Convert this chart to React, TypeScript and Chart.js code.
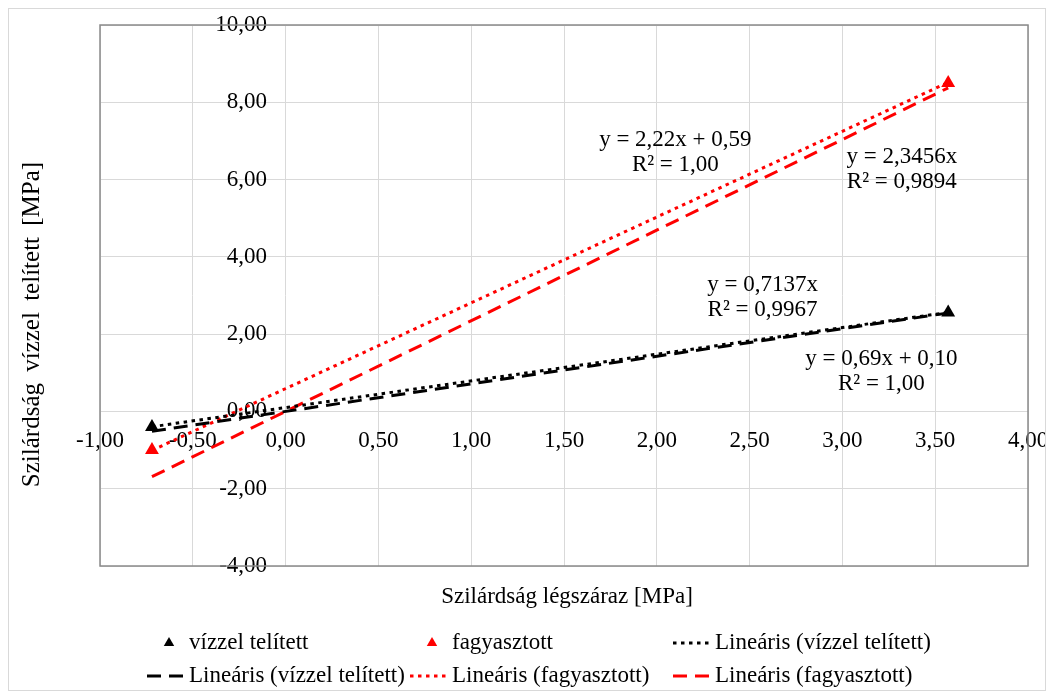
import React, { useEffect, useRef } from "react";
import { Chart, registerables } from "chart.js";

Chart.register(...registerables);

const FONT = "'Liberation Serif', 'Times New Roman', serif";
const FS = 23;

// ---- data ----
const seriesNames = ["vízzel telített", "fagyasztott"];
const trendNames = [
  "Lineáris (vízzel telített)",
  "Lineáris (vízzel telített)",
  "Lineáris (fagyasztott)",
  "Lineáris (fagyasztott)",
];
const xValues = [-0.72, 3.57];
const waterValues = [-0.4, 2.56];
const frozenValues = [-1.0, 8.5];
const xTicks = [-1, -0.5, 0, 0.5, 1, 1.5, 2, 2.5, 3, 3.5, 4];
const yTicks = [-4, -2, 0, 2, 4, 6, 8, 10];
// trendline equations as printed on the chart
const trendSlopes = [0.69, 0.7137, 2.22, 2.3456];
const trendIntercepts = [0.1, 0, 0.59, 0];
const trendLabelLines = [
  ["y = 0,69x + 0,10", "R² = 1,00"],
  ["y = 0,7137x", "R² = 0,9967"],
  ["y = 2,22x + 0,59", "R² = 1,00"],
  ["y = 2,3456x", "R² = 0,9894"],
];
const xTitle = "Szilárdság légszáraz [MPa]";
const yTitle = "Szilárdság vízzel telített [MPa]";

// ---- layout / style (not data) ----
const labelAnchorX = [3.21, 2.57, 2.1, 3.32];
const labelAnchorY = [1.37, 3.26, 7.02, 6.58];
const trendColors = ["#000000", "#000000", "#ff0000", "#ff0000"];
const DOT = [3.5, 4.5];
const DASH = [14, 8];
const trendDashes = [DOT, DASH, DOT, DASH];
// y tick labels sit a little to the left of the x = 0 crossing
const Y_LABEL_CROSS = -0.1;

const fmt = (v: number) => v.toFixed(2).replace(".", ",");

const framePlugin = {
  id: "frame",
  beforeDatasetsDraw(chart: any) {
    const { ctx, chartArea: a } = chart;
    ctx.save();
    ctx.strokeStyle = "#8a8a8a";
    ctx.lineWidth = 1.5;
    ctx.strokeRect(a.left, a.top, a.right - a.left, a.bottom - a.top);
    ctx.restore();
  },
};

function drawSpacedWords(ctx: any, text: string, cx: number, cy: number, extra: number) {
  const words = text.split(" ");
  const sp = ctx.measureText(" ").width + extra;
  const widths = words.map((w) => ctx.measureText(w).width);
  const total = widths.reduce((s, w) => s + w, 0) + sp * (words.length - 1);
  let x = cx - total / 2;
  ctx.textAlign = "left";
  words.forEach((w, i) => {
    ctx.fillText(w, x, cy);
    x += widths[i] + sp;
  });
}

const textPlugin = {
  id: "texts",
  afterDraw(chart: any) {
    const { ctx, chartArea: a, scales } = chart;
    ctx.save();
    ctx.fillStyle = "#000";
    ctx.font = `${FS}px ${FONT}`;
    ctx.textAlign = "center";
    ctx.textBaseline = "middle";
    // trendline equations
    trendLabelLines.forEach((lines, i) => {
      const cx = scales.x.getPixelForValue(labelAnchorX[i]);
      const cy = scales.y.getPixelForValue(labelAnchorY[i]);
      lines.forEach((t, j) => ctx.fillText(t, cx, cy + j * 25));
    });
    // axis titles
    ctx.fillText(xTitle, (a.left + a.right) / 2 + 3, a.bottom + 31);
    ctx.save();
    ctx.font = `25px ${FONT}`;
    ctx.translate(23, (a.top + a.bottom) / 2 + 29);
    ctx.rotate(-Math.PI / 2);
    drawSpacedWords(ctx, yTitle, 0, 0, 5);
    ctx.restore();

    // legend: 3 columns x 2 rows
    const colX = [180, 443, 706];
    const rowY = [634, 667];
    const ds = chart.data.datasets;
    ds.forEach((d: any, i: number) => {
      const col = i % 3;
      const row = Math.floor(i / 3);
      const tx = colX[col];
      const ty = rowY[row];
      const mx0 = tx - 42;
      const mx1 = tx - 4;
      if (d.showLine === false) {
        const cx = (mx0 + mx1) / 2 + 3;
        const r = 6;
        ctx.beginPath();
        ctx.moveTo(cx, ty - r);
        ctx.lineTo(cx + r * 0.87, ty + r * 0.5);
        ctx.lineTo(cx - r * 0.87, ty + r * 0.5);
        ctx.closePath();
        ctx.fillStyle = d.backgroundColor;
        ctx.fill();
      } else {
        ctx.save();
        ctx.strokeStyle = d.borderColor;
        ctx.lineWidth = d.borderWidth;
        ctx.setLineDash(d.borderDash);
        ctx.beginPath();
        ctx.moveTo(mx0, ty);
        ctx.lineTo(mx1, ty);
        ctx.stroke();
        ctx.restore();
      }
      ctx.fillStyle = "#000";
      ctx.textAlign = "left";
      ctx.fillText(d.label, tx, ty);
    });
    ctx.restore();
  },
};

export default function App() {
  const ref = useRef<HTMLCanvasElement | null>(null);

  useEffect(() => {
    if (!ref.current) return;
    const markerSets = [waterValues, frozenValues].map((vals, i) => ({
      label: seriesNames[i],
      data: xValues.map((x, k) => ({ x, y: vals[k] })),
      showLine: false,
      pointStyle: "triangle",
      pointRadius: 8,
      pointHoverRadius: 8,
      backgroundColor: i === 0 ? "#000000" : "#ff0000",
      borderColor: i === 0 ? "#000000" : "#ff0000",
      borderWidth: 0,
    }));
    const trendSets = trendSlopes.map((m, i) => ({
      label: trendNames[i],
      data: xValues.map((x) => ({ x, y: m * x + trendIntercepts[i] })),
      showLine: true,
      pointRadius: 0,
      borderColor: trendColors[i],
      backgroundColor: trendColors[i],
      borderWidth: 3,
      borderDash: trendDashes[i],
      borderCapStyle: "butt",
      fill: false,
    }));

    const chart = new Chart(ref.current, {
      type: "scatter",
      data: { datasets: [...markerSets, ...trendSets] as any },
      options: {
        animation: false,
        responsive: false,
        events: [],
        layout: { padding: { left: 91, top: 16, right: 17, bottom: 124 } },
        plugins: { legend: { display: false }, tooltip: { enabled: false } },
        scales: {
          x: {
            type: "linear",
            min: xTicks[0],
            max: xTicks[xTicks.length - 1],
            position: { y: 0 } as any,
            afterBuildTicks: (s: any) => {
              s.ticks = xTicks.map((v) => ({ value: v }));
            },
            afterFit: (s: any) => {
              s.paddingLeft = 0;
              s.paddingRight = 0;
              s.paddingTop = 0;
              s.paddingBottom = 0;
            },
            ticks: {
              font: { family: FONT, size: FS },
              color: "#000",
              padding: 16,
              maxRotation: 0,
              autoSkip: false,
              callback: (v: any) => fmt(Number(v)),
            },
            grid: { color: "#d9d9d9", lineWidth: 1, drawTicks: false },
            border: { display: false },
          },
          y: {
            type: "linear",
            min: yTicks[0],
            max: yTicks[yTicks.length - 1],
            position: { x: Y_LABEL_CROSS } as any,
            afterBuildTicks: (s: any) => {
              s.ticks = yTicks.map((v) => ({ value: v }));
            },
            afterFit: (s: any) => {
              s.paddingLeft = 0;
              s.paddingRight = 0;
              s.paddingTop = 0;
              s.paddingBottom = 0;
            },
            ticks: {
              font: { family: FONT, size: FS },
              color: "#000",
              padding: 0,
              autoSkip: false,
              callback: (v: any) => fmt(Number(v)),
            },
            grid: { color: "#d9d9d9", lineWidth: 1, drawTicks: false },
            border: { display: false },
          },
        },
      },
      plugins: [framePlugin, textPlugin],
    });
    return () => chart.destroy();
  }, []);

  return (
    <div
      style={{
        width: 1038,
        height: 683,
        border: "1px solid #d9d9d9",
        boxSizing: "border-box",
        background: "#fff",
      }}
    >
      <canvas ref={ref} width={1036} height={681} style={{ display: "block" }} />
    </div>
  );
}
